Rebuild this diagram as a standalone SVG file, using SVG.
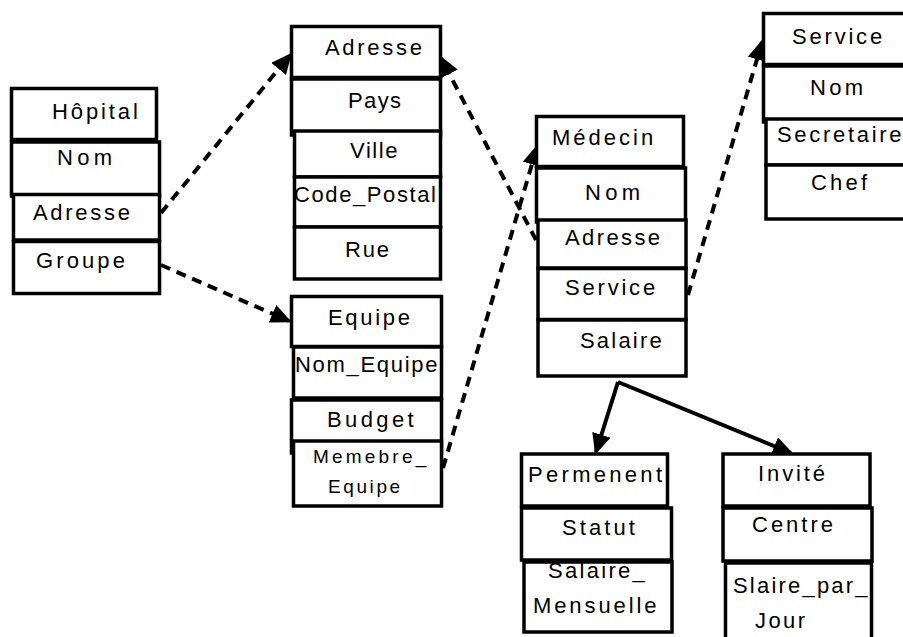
<svg xmlns="http://www.w3.org/2000/svg" width="903" height="637" viewBox="0 0 903 637">
<defs>
<style>
rect{fill:#fff;stroke:#000;stroke-width:3.5}
text{font-family:"Liberation Sans",Arial,sans-serif;font-size:22px;fill:#000}
.sm{font-size:19px}
.dash{fill:none;stroke:#000;stroke-width:4;stroke-dasharray:10 7}
.solid{fill:none;stroke:#000;stroke-width:4}
</style>
<marker id="ah" markerUnits="userSpaceOnUse" markerWidth="21" markerHeight="19" viewBox="0 0 21 19" refX="18" refY="9.5" orient="auto">
<path d="M0,0 L21,9.5 L0,19 z" fill="#000"/>
</marker>
</defs>
<rect x="0" y="0" width="903" height="637" style="stroke:none;fill:#fff"/>

<g id="connectors">
<path class="dash" d="M161,213 L290,55" marker-end="url(#ah)"/>
<path class="dash" d="M161,265 L289,321" marker-end="url(#ah)"/>
<path class="dash" d="M536,240 L441,58" marker-end="url(#ah)"/>
<path class="dash" d="M443,468 L537,147" marker-end="url(#ah)"/>
<path class="dash" d="M688,295 L762,42" marker-end="url(#ah)"/>
<path class="solid" d="M618,382 L596,452" marker-end="url(#ah)"/>
<path class="solid" d="M618,382 L791,453" marker-end="url(#ah)"/>
</g>

<g id="hopital">
<rect x="11.5" y="88.5" width="145" height="51"/>
<rect x="11.5" y="142" width="148" height="54"/>
<rect x="13.5" y="194.5" width="146" height="45.5"/>
<rect x="13.5" y="241.5" width="146" height="52"/>
<text x="52" y="119" style="letter-spacing:2.9px">Hôpital</text>
<text x="57" y="165" style="letter-spacing:4.3px">Nom</text>
<text x="33" y="220" style="letter-spacing:2.7px">Adresse</text>
<text x="36" y="268" style="letter-spacing:3.1px">Groupe</text>
</g>

<g id="adresse">
<rect x="291.5" y="26.5" width="149" height="51"/>
<rect x="291.5" y="79" width="149" height="56"/>
<rect x="294.5" y="131" width="146" height="46"/>
<rect x="294.5" y="177" width="146" height="50"/>
<rect x="294.5" y="227" width="146" height="52"/>
<text x="325" y="55" style="letter-spacing:2.7px">Adresse</text>
<text x="348" y="108" style="letter-spacing:1.4px">Pays</text>
<text x="350" y="158" style="letter-spacing:1.6px">Ville</text>
<text x="294" y="202" style="letter-spacing:1.6px">Code_Postal</text>
<text x="345" y="257" style="letter-spacing:1.8px">Rue</text>
</g>

<g id="equipe">
<rect x="291.5" y="296.5" width="150" height="50"/>
<rect x="293.5" y="347" width="148" height="51"/>
<rect x="291.5" y="400" width="150" height="53"/>
<rect x="293.5" y="441" width="148" height="65"/>
<text x="328" y="325" style="letter-spacing:2.7px">Equipe</text>
<text x="295" y="372" style="letter-spacing:1.7px">Nom_Equipe</text>
<text x="327" y="427" style="letter-spacing:3.4px">Budget</text>
<text class="sm" x="313" y="463" style="letter-spacing:3.2px">Memebre_</text>
<text class="sm" x="328" y="493" style="letter-spacing:2.6px">Equipe</text>
</g>

<g id="medecin">
<rect x="536.5" y="116.5" width="147" height="50"/>
<rect x="536.5" y="168" width="149" height="54"/>
<rect x="538" y="220" width="148" height="48"/>
<rect x="538" y="268.5" width="148" height="51"/>
<rect x="538" y="320" width="148" height="56"/>
<text x="552" y="145" style="letter-spacing:3px">Médecin</text>
<text x="585" y="200" style="letter-spacing:4.3px">Nom</text>
<text x="565" y="245" style="letter-spacing:2.4px">Adresse</text>
<text x="565" y="295" style="letter-spacing:2.8px">Service</text>
<text x="580" y="348" style="letter-spacing:2.2px">Salaire</text>
</g>

<g id="service">
<rect x="763.5" y="13.5" width="150" height="51"/>
<rect x="763.5" y="66" width="150" height="56"/>
<rect x="766" y="119" width="150" height="46"/>
<rect x="766" y="165" width="150" height="54"/>
<text x="792" y="44" style="letter-spacing:2.8px">Service</text>
<text x="810" y="95" style="letter-spacing:3.3px">Nom</text>
<text x="777" y="142" style="letter-spacing:2.7px">Secretaire</text>
<text x="811" y="190" style="letter-spacing:3.2px">Chef</text>
</g>

<g id="permenent">
<rect x="521.5" y="454" width="146" height="52"/>
<rect x="521.5" y="508" width="150" height="52"/>
<rect x="524" y="562" width="148" height="70"/>
<text x="528" y="482" style="letter-spacing:3.3px">Permenent</text>
<text x="562" y="535" style="letter-spacing:3.1px">Statut</text>
<text x="548" y="578" style="letter-spacing:2.3px">Salaire_</text>
<text x="533" y="613" style="letter-spacing:2.9px">Mensuelle</text>
</g>

<g id="invite">
<rect x="723" y="454" width="147" height="52"/>
<rect x="723" y="508" width="149" height="53"/>
<rect x="725.5" y="563" width="146" height="80"/>
<text x="758" y="481" style="letter-spacing:2.9px">Invité</text>
<text x="752" y="532" style="letter-spacing:3px">Centre</text>
<text x="733" y="593" style="letter-spacing:2.2px">Slaire_par_</text>
<text x="755" y="628" style="letter-spacing:2.4px">Jour</text>
</g>
</svg>
